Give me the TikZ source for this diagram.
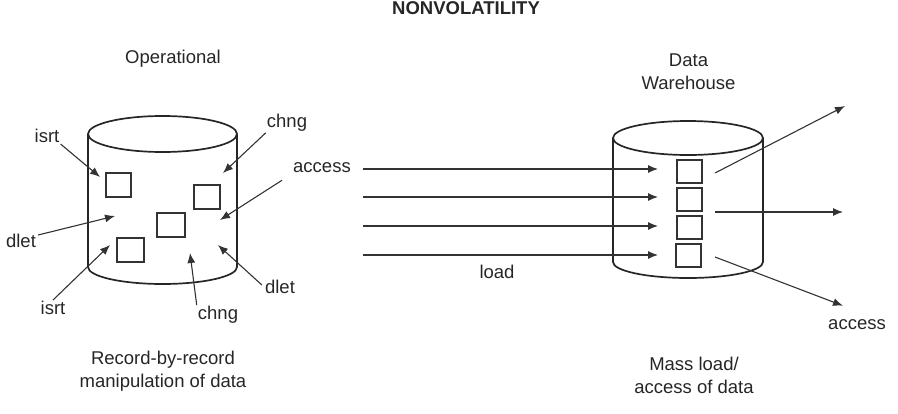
\documentclass[tikz,border=0pt]{standalone}
\usepackage{fontspec}
\setmainfont{Liberation Sans}
\usetikzlibrary{arrows.meta}
\begin{document}
\begin{tikzpicture}[x=1pt,y=-1pt,
  lbl/.style={font=\fontsize{18.5}{23}\selectfont, inner sep=1pt, text=black!85},
  cyl/.style={line width=1.7pt, draw=black!85},
  rec/.style={line width=1.4pt, draw=black!80},
  conn/.style={line width=1.1pt, draw=black!80, -{Latex[length=10pt,width=8pt]}}]
\useasboundingbox (0,0) rectangle (898,413);
% title
\node[lbl, font=\fontsize{18.5}{23}\selectfont\bfseries, anchor=base] (title) at (466,14.5) {NONVOLATILITY};
% left cylinder
\draw[cyl] (162.5,134) ellipse [x radius=74.5pt, y radius=18pt];
\draw[cyl] (88,134) -- (88,267) arc[start angle=180, end angle=360, x radius=74.5pt, y radius=17pt] -- (237,134);
% right cylinder
\draw[cyl] (688,138) ellipse [x radius=75pt, y radius=17pt];
\draw[cyl] (613,138) -- (613,262) arc[start angle=180, end angle=360, x radius=75pt, y radius=16pt] -- (763,138);
% left records
\draw[rec] (106,173) rectangle (131,197);
\draw[rec] (194,185) rectangle (220,209);
\draw[rec] (157,213) rectangle (185,237);
\draw[rec] (117,238) rectangle (144,262);
% right records
\draw[rec] (677,160) rectangle (702,183);
\draw[rec] (677,188) rectangle (702,211);
\draw[rec] (677,216) rectangle (702,239);
\draw[rec] (676,244) rectangle (701,267);
% texts
\node[lbl] (oper) at (173,59) {Operational};
\node[lbl, align=center] (dw) at (688.5,72) {Data\\Warehouse};
\node[lbl, align=center] (rbr) at (163,371) {Record-by-record\\manipulation of data};
\node[lbl, align=center] (mass) at (694,375) {Mass load/\\access of data};
\node[lbl] (isrtA) at (47,136) {isrt};
\node[lbl] (chngA) at (287,123) {chng};
\node[lbl] (accL) at (322,168) {access};
\node[lbl] (dletA) at (21,241) {dlet};
\node[lbl] (isrtB) at (53,308) {isrt};
\node[lbl] (chngB) at (218,315) {chng};
\node[lbl] (dletB) at (280,287) {dlet};
\node[lbl] (load) at (497,272) {load};
\node[lbl] (accR) at (857,325) {access};
% targets
\coordinate (t1) at (100,177);
\coordinate (t2) at (223,173);
\coordinate (t3) at (220,220);
\coordinate (t4) at (115,216);
\coordinate (t5) at (110,245);
\coordinate (t6) at (190,253);
\coordinate (t7) at (218,245);
\draw[conn] (isrtA.south east) -- (t1);
\draw[conn] (chngA.south west) -- (t2);
\draw[conn] ([shift={(-10,6)}]accL.south west) -- (t3);
\draw[conn] ([shift={(1,-6)}]dletA.east) -- (t4);
\draw[conn] (isrtB.north) -- (t5);
\draw[conn] (chngB.north west) -- (t6);
\draw[conn] ([shift={(-2,-2)}]dletB.west) -- (t7);
% load arrows
\coordinate (s2) at (363,197);
\coordinate (s3) at (363,226);
\coordinate (s4) at (363,255);
\coordinate (e1) at (658,169);
\coordinate (e2) at (658,197);
\coordinate (e3) at (658,226);
\coordinate (e4) at (658,255);
\draw[conn] (accL.east |- e1) ++(11,0) coordinate (s1) -- (e1);
\draw[conn] (s2) -- (e2);
\draw[conn] (s3) -- (e3);
\draw[conn] (s4) -- (e4);
% access out arrows
\coordinate (o1) at (715,173);
\coordinate (o2) at (715,212);
\coordinate (o3) at (715,257);
\coordinate (p1) at (845,106);
\coordinate (p2) at (843,212);
\draw[conn] (o1) -- (p1);
\draw[conn] (o2) -- (p2);
\draw[conn] (o3) -- ([shift={(-14,-13)}]accR.north);
\end{tikzpicture}
\end{document}
